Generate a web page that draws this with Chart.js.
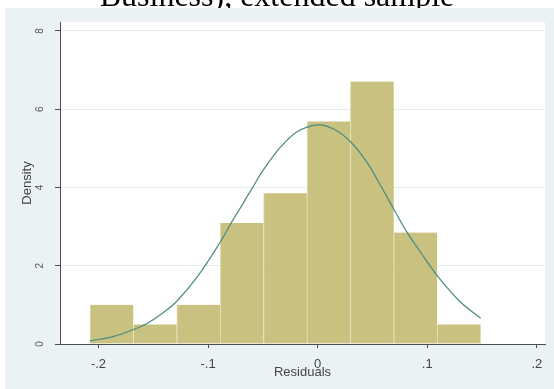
<!DOCTYPE html>
<html>
<head>
<meta charset="utf-8">
<script src="https://cdn.jsdelivr.net/npm/chart.js@4.4.1/dist/chart.umd.min.js"></script>
<style>
  html, body { margin: 0; padding: 0; background: #ffffff; }
  #wrap { width: 554px; height: 389px; }
</style>
</head>
<body>
<div id="wrap"><canvas id="c" width="554" height="389"></canvas></div>
<script>
// Histogram of residuals (density scale) with a fitted normal curve
const binEdges  = [-0.2078, -0.1682, -0.1286, -0.0890, -0.0494, -0.0098, 0.0298, 0.0694, 0.1090, 0.1487];
const densities = [1.00, 0.50, 1.00, 3.09, 3.85, 5.69, 6.71, 2.85, 0.50];

// Normal density curve, sampled along the residual range
const curveX = [-0.2078, -0.187, -0.168, -0.156, -0.142, -0.129, -0.109, -0.089, -0.079, -0.069, -0.059, -0.050, -0.034, -0.019, 0.000, 0.014, 0.030, 0.045, 0.057, 0.069, 0.081, 0.095, 0.109, 0.130, 0.1487];
const curveY = [0.08, 0.19, 0.37, 0.52, 0.78, 1.08, 1.75, 2.60, 3.09, 3.55, 4.02, 4.43, 5.03, 5.42, 5.60, 5.50, 5.17, 4.64, 4.07, 3.47, 2.88, 2.30, 1.75, 1.08, 0.66];

const xTickValues = [-0.2, -0.1, 0, 0.1, 0.2];
const xTickLabels = ['-.2', '-.1', '0', '.1', '.2'];
const yTickValues = [0, 2, 4, 6, 8];
const yTickLabels = ['0', '2', '4', '6', '8'];

const titleText = 'Business), extended sample';
const xTitle = 'Residuals';
const yTitle = 'Density';

const barPoints = densities.map((d, i) => ({ x: (binEdges[i] + binEdges[i + 1]) / 2, y: d }));
const curvePoints = curveX.map((x, i) => ({ x: x, y: curveY[i] }));

const AXIS = '#4d4d4d';
const TEXT = '#444444';

const backdrop = {
  id: 'backdrop',
  beforeDraw(chart) {
    const { ctx, chartArea: a } = chart;
    ctx.save();
    ctx.fillStyle = '#ffffff';
    ctx.fillRect(0, 0, chart.width, chart.height);
    // figure title (only its lower part falls inside the canvas)
    ctx.fillStyle = '#000000';
    ctx.font = '32px "Liberation Serif", "Times New Roman", serif';
    ctx.textAlign = 'center';
    ctx.textBaseline = 'alphabetic';
    ctx.fillText(titleText, 277, 6);
    // graph region
    ctx.fillStyle = '#eaf2f3';
    ctx.fillRect(5, 8, chart.width - 5, chart.height - 8);
    // plot region
    ctx.fillStyle = '#ffffff';
    ctx.fillRect(a.left, a.top, a.right - a.left, a.bottom - a.top);
    ctx.restore();
  },
  afterDraw(chart) {
    const { ctx } = chart;
    const ys = chart.scales.y;
    ctx.save();
    ctx.fillStyle = '#555555';
    ctx.font = '10px "Liberation Sans", Arial, sans-serif';
    ctx.textAlign = 'center';
    ctx.textBaseline = 'middle';
    yTickValues.forEach((v, i) => {
      const py = ys.getPixelForValue(v);
      ctx.save();
      ctx.translate(40, py);
      ctx.rotate(-Math.PI / 2);
      ctx.fillText(yTickLabels[i], 0, 0);
      ctx.restore();
    });
    ctx.restore();
  }
};

new Chart(document.getElementById('c'), {
  type: 'bar',
  data: {
    datasets: [
      {
        type: 'line',
        data: curvePoints,
        borderColor: '#4a8a82',
        borderWidth: 1.2,
        pointRadius: 0,
        fill: false,
        tension: 0.35,
        order: 0
      },
      {
        type: 'bar',
        data: barPoints,
        backgroundColor: '#c9c17f',
        borderColor: '#e6e2bd',
        borderWidth: { left: 1, right: 0, top: 0, bottom: 0 },
        borderSkipped: false,
        barPercentage: 1.0,
        categoryPercentage: 1.0,
        order: 1
      }
    ]
  },
  options: {
    responsive: false,
    animation: false,
    events: [],
    layout: { padding: { left: 0, right: 9, top: 22, bottom: 0 } },
    plugins: { legend: { display: false }, tooltip: { enabled: false }, title: { display: false } },
    scales: {
      x: {
        type: 'linear',
        offset: false,
        min: -0.2351,
        max: 0.2074,
        afterBuildTicks(s) { s.ticks = xTickValues.map(v => ({ value: v })); },
        afterFit(s) { s.height = 45; },
        ticks: {
          autoSkip: false,
          maxRotation: 0,
          padding: 9,
          color: TEXT,
          font: { family: '"Liberation Sans", Arial, sans-serif', size: 13 },
          callback(v) {
            const i = xTickValues.findIndex(t => Math.abs(t - v) < 1e-9);
            return i >= 0 ? xTickLabels[i] : '';
          }
        },
        grid: { offset: false, drawOnChartArea: false, drawTicks: true, tickLength: 4, tickColor: AXIS, color: AXIS },
        border: { display: true, color: AXIS, width: 1 },
        title: {
          display: true, text: xTitle, color: TEXT,
          font: { family: '"Liberation Sans", Arial, sans-serif', size: 13 },
          padding: { top: 0, bottom: 9 }
        }
      },
      y: {
        type: 'linear',
        min: 0,
        max: 8.23,
        afterBuildTicks(s) { s.ticks = yTickValues.map(v => ({ value: v })); },
        afterFit(s) { s.width = 60; },
        ticks: { display: false },
        grid: { drawOnChartArea: true, drawTicks: true, tickLength: 5, color: '#e3edef', tickColor: AXIS, lineWidth: 1 },
        border: { display: true, color: AXIS, width: 1 },
        title: {
          display: true, text: yTitle, color: TEXT,
          font: { family: '"Liberation Sans", Arial, sans-serif', size: 13 },
          padding: { top: 20, bottom: 0 }
        }
      }
    }
  },
  plugins: [backdrop]
});
</script>
</body>
</html>
